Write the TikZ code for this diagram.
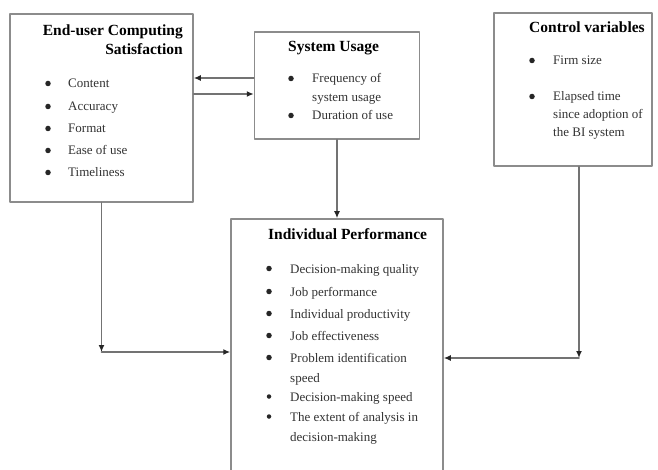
\documentclass[tikz,border=0pt]{standalone}
\usepackage{fontspec}
\setmainfont{Liberation Serif}
\usetikzlibrary{arrows.meta}

\tikzset{
  box/.style={draw=black!45,line width=1.5pt,fill=white,inner sep=0pt},
  conn/.style={draw=black!55,line width=1.6pt,-{Latex[length=7pt,width=6pt,color=black!85]}},
  head/.style={font=\fontsize{15.5}{18}\selectfont\bfseries,inner sep=0pt},
  item/.style={font=\fontsize{13}{15}\selectfont,text=black!80,inner sep=0pt,anchor=base west},
  dot/.style={circle,fill=black!85,inner sep=0pt,minimum size=5.5pt,yshift=4.5pt}
}

\begin{document}
\begin{tikzpicture}[x=1pt,y=-1pt,line cap=round,line join=round]
\useasboundingbox (0,0) rectangle (658,470);

% boxes
\node[box,minimum width=183pt,minimum height=188pt] (ecs) at (101.5,108) {};
\node[box,minimum width=165pt,minimum height=107pt] (su) at (337,85.5) {};
\node[box,minimum width=158pt,minimum height=153pt] (ctl) at (573,89.5) {};
\node[box,minimum width=212pt,minimum height=270pt] (ip) at (337,354) {};

% End-user Computing Satisfaction
\node[head,anchor=base east] (ecst1) at (183,36) {End-user Computing};
\node[head,anchor=base east] (ecst2) at (183,55) {Satisfaction};
\node[dot] (ecsd1) at (48,88) {};
\node[item] (ecsi1) at (68,88) {Content};
\node[dot] (ecsd2) at (48,111) {};
\node[item] (ecsi2) at (68,111) {Accuracy};
\node[dot] (ecsd3) at (48,133) {};
\node[item] (ecsi3) at (68,133) {Format};
\node[dot] (ecsd4) at (48,155) {};
\node[item] (ecsi4) at (68,155) {Ease of use};
\node[dot] (ecsd5) at (48,177) {};
\node[item] (ecsi5) at (68,177) {Timeliness};

% System Usage
\node[head,anchor=base west] (sut) at (288,52) {System Usage};
\node[dot] (sud1) at (291,83) {};
\node[item] (sui1) at (312,83) {Frequency of};
\node[item] (sui1b) at (312,102) {system usage};
\node[dot] (sud2) at (291,120) {};
\node[item] (sui2) at (312,120) {Duration of use};

% Control variables
\node[head,anchor=base west] (ctlt) at (529,33) {Control variables};
\node[dot] (ctld1) at (532,65) {};
\node[item] (ctli1) at (553,65) {Firm size};
\node[dot] (ctld2) at (532,101) {};
\node[item] (ctli2) at (553,101) {Elapsed time};
\node[item] (ctli2b) at (553,119) {since adoption of};
\node[item] (ctli2c) at (553,137) {the BI system};

% Individual Performance
\node[head,anchor=base west] (ipt) at (268,240) {Individual Performance};
\node[dot] (ipd1) at (269,273) {};
\node[item] (ipi1) at (290,273) {Decision-making quality};
\node[dot] (ipd2) at (269,296) {};
\node[item] (ipi2) at (290,296) {Job performance};
\node[dot] (ipd3) at (269,318) {};
\node[item] (ipi3) at (290,318) {Individual productivity};
\node[dot] (ipd4) at (269,340) {};
\node[item] (ipi4) at (290,340) {Job effectiveness};
\node[dot] (ipd5) at (269,362) {};
\node[item] (ipi5) at (290,362) {Problem identification};
\node[item] (ipi5b) at (290,382) {speed};
\node[dot,minimum size=4.5pt] (ipd6) at (269,401) {};
\node[item] (ipi6) at (290,401) {Decision-making speed};
\node[dot,minimum size=4.5pt] (ipd7) at (269,421) {};
\node[item] (ipi7) at (290,421) {The extent of analysis in};
\node[item] (ipi7b) at (290,441) {decision-making};

% connectors
\coordinate (ecsc) at (101.5,352);
\coordinate (ctlc) at (579,358);

\draw[conn] (su.west |- 0,78) -- (ecs.east |- 0,78);
\draw[conn] (ecs.east |- 0,94) -- (su.west |- 0,94);
\draw[conn] (su.south) -- (ip.north);
\draw[conn] (ecs.south) -- (ecsc);
\draw[conn] (ecsc) -- (ecsc -| ip.west);
\draw[conn] (ctlc |- ctl.south) -- (ctlc);
\draw[conn] (ctlc) -- (ctlc -| ip.east);
\end{tikzpicture}
\end{document}
